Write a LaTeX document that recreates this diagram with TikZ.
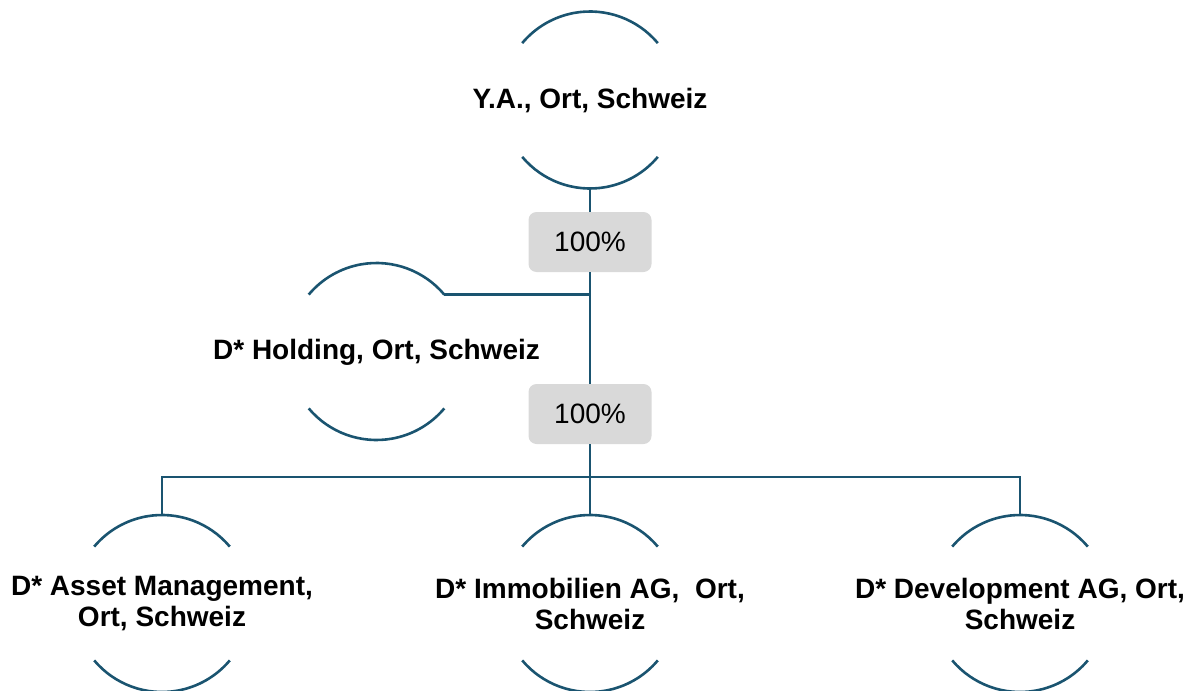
\documentclass[tikz,border=0pt]{standalone}
\usepackage{fontspec}
\setmainfont{Liberation Sans}
\definecolor{lnc}{HTML}{1A5470}
\definecolor{boxc}{HTML}{D9D9D9}
\tikzset{
  ln/.style={draw=lnc, line width=2.6pt},
  circ/.style={circle, minimum size=177pt, inner sep=0pt, outer sep=0pt},
  lbl/.style={font=\fontsize{28}{31}\selectfont\bfseries, align=center, inner sep=0pt},
  pct/.style={fill=boxc, rounded corners=8pt, minimum width=123pt, minimum height=60pt, inner sep=0pt, font=\fontsize{28}{31}\selectfont},
}
\begin{document}
\begin{tikzpicture}[x=1pt,y=1pt]
\useasboundingbox (0,0) rectangle (1190,-690);
% circle frames
\node[circ] (top) at (590,-100) {};
\node[circ] (hold) at (376.5,-351.5) {};
\node[circ] (am) at (162,-603.5) {};
\node[circ] (im) at (590,-603.5) {};
\node[circ] (dev) at (1020,-603.5) {};
% texts
\node[lbl] (topt) at (590,-101) {Y.A., Ort, Schweiz};
\node[lbl] (holdt) at (376.5,-352) {D* Holding, Ort, Schweiz};
\node[lbl] (amt) at (162,-604) {D* Asset Management,\\Ort, Schweiz};
\node[lbl] (imt) at (590,-604) {D* Immobilien AG,~\ Ort,\\Schweiz};
\node[lbl] (devt) at (1020,-604) {D* Development AG, Ort,\\Schweiz};
% percentage boxes
\node[pct] (p1) at (590,-242) {100\%};
\node[pct] (p2) at (590,-414) {100\%};
% arcs
\foreach \n in {top,hold,am,im,dev}{
  \draw[ln] (\n.40) arc[start angle=40, end angle=140, radius=88.5];
  \draw[ln] (\n.220) arc[start angle=220, end angle=320, radius=88.5];
}
% connectors
\coordinate (bus) at (590,-477);
\draw[ln] (top.south) -- (p1.north);
\draw[ln] (p1.south) -- (p2.north);
\draw[ln] (hold.40) -- (hold.40 -| p1.center);
\draw[ln] (p2.south) -- (bus);
\draw[ln] (bus) -- (im.north);
\draw[ln] (am.north) -- (am.north |- bus) -- (dev.north |- bus) -- (dev.north);
\end{tikzpicture}
\end{document}
